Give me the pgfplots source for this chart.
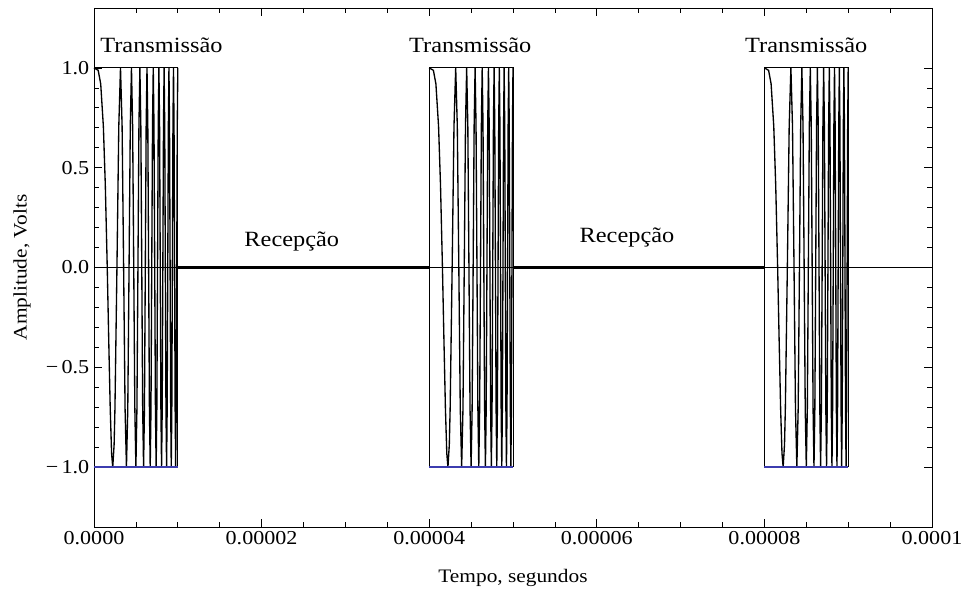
\documentclass[border=0pt]{standalone}
\usepackage{pgfplots}
\pgfplotsset{compat=1.18}
\usepackage{pgfplotstable}
\usepackage{fontspec}
\setmainfont{Liberation Serif}[FakeStretch=1.12]
\definecolor{envblue}{RGB}{60,60,175}

\pgfplotstableread{
t1 t2 t3 y
0.00000 4.00000 8.00000 1
0.05000 4.05000 8.05000 0.9877
0.08000 4.08000 8.08000 0.9202
0.11180 4.11180 8.11180 0.7071
0.13500 4.13500 8.13500 0.4128
0.15811 4.15811 8.15811 0
0.17500 4.17500 8.17500 -0.3461
0.19365 4.19365 8.19365 -0.7071
0.21000 4.21000 8.21000 -0.9317
0.22361 4.22361 8.22361 -1
0.24000 4.24000 8.24000 -0.8881
0.25000 4.25000 8.25000 -0.7071
0.27386 4.27386 8.27386 0
0.29580 4.29580 8.29580 0.7071
0.31623 4.31623 8.31623 1
0.33541 4.33541 8.33541 0.7071
0.35355 4.35355 8.35355 0
0.37081 4.37081 8.37081 -0.7071
0.38730 4.38730 8.38730 -1
0.40311 4.40311 8.40311 -0.7071
0.41833 4.41833 8.41833 0
0.43301 4.43301 8.43301 0.7071
0.44721 4.44721 8.44721 1
0.46098 4.46098 8.46098 0.7071
0.47434 4.47434 8.47434 0
0.48734 4.48734 8.48734 -0.7071
0.50000 4.50000 8.50000 -1
0.51235 4.51235 8.51235 -0.7071
0.52440 4.52440 8.52440 0
0.53619 4.53619 8.53619 0.7071
0.54772 4.54772 8.54772 1
0.55902 4.55902 8.55902 0.7071
0.57009 4.57009 8.57009 0
0.58095 4.58095 8.58095 -0.7071
0.59161 4.59161 8.59161 -1
0.60208 4.60208 8.60208 -0.7071
0.61237 4.61237 8.61237 0
0.62249 4.62249 8.62249 0.7071
0.63246 4.63246 8.63246 1
0.64226 4.64226 8.64226 0.7071
0.65192 4.65192 8.65192 0
0.66144 4.66144 8.66144 -0.7071
0.67082 4.67082 8.67082 -1
0.68007 4.68007 8.68007 -0.7071
0.68920 4.68920 8.68920 0
0.69821 4.69821 8.69821 0.7071
0.70711 4.70711 8.70711 1
0.71589 4.71589 8.71589 0.7071
0.72457 4.72457 8.72457 0
0.73314 4.73314 8.73314 -0.7071
0.74162 4.74162 8.74162 -1
0.75000 4.75000 8.75000 -0.7071
0.75829 4.75829 8.75829 0
0.76649 4.76649 8.76649 0.7071
0.77460 4.77460 8.77460 1
0.78262 4.78262 8.78262 0.7071
0.79057 4.79057 8.79057 0
0.79844 4.79844 8.79844 -0.7071
0.80623 4.80623 8.80623 -1
0.81394 4.81394 8.81394 -0.7071
0.82158 4.82158 8.82158 0
0.82916 4.82916 8.82916 0.7071
0.83666 4.83666 8.83666 1
0.84410 4.84410 8.84410 0.7071
0.85147 4.85147 8.85147 0
0.85878 4.85878 8.85878 -0.7071
0.86603 4.86603 8.86603 -1
0.87321 4.87321 8.87321 -0.7071
0.88034 4.88034 8.88034 0
0.88741 4.88741 8.88741 0.7071
0.89443 4.89443 8.89443 1
0.90139 4.90139 8.90139 0.7071
0.90830 4.90830 8.90830 0
0.91515 4.91515 8.91515 -0.7071
0.92195 4.92195 8.92195 -1
0.92871 4.92871 8.92871 -0.7071
0.93541 4.93541 8.93541 0
0.94207 4.94207 8.94207 0.7071
0.94868 4.94868 8.94868 1
0.95525 4.95525 8.95525 0.7071
0.96177 4.96177 8.96177 0
0.96825 4.96825 8.96825 -0.7071
0.97468 4.97468 8.97468 -1
0.98107 4.98107 8.98107 -0.7071
0.98742 4.98742 8.98742 0
0.99373 4.99373 8.99373 0.7071
1.00000 5.00000 9.00000 1
}\chirp

\begin{document}
\begin{tikzpicture}
\begin{axis}[
  at={(0,0)}, anchor=south west,
  scale only axis, width=628.5pt, height=389.25pt,
  xmin=0, xmax=10, ymin=-1.3, ymax=1.3,
  xtick={0,2,4,6,8,10},
  xticklabels={0.0000,0.00002,0.00004,0.00006,0.00008,0.0001},
  minor x tick num=3,
  ytick={-1,-0.5,0,0.5,1},
  yticklabels={−\,1.0,−\,0.5,0.0,0.5,1.0},
  minor y tick num=4,
  tick align=inside, tick pos=both,
  xticklabel pos=lower, yticklabel pos=left,
  major tick length=6pt, minor tick length=3.5pt,
  every tick/.style={black, line width=0.5pt},
  axis line style={line width=0.6pt},
  /pgf/number format/assume math mode=true,
  ticklabel style={font=\fontsize{14.8}{16}\selectfont},
  label style={font=\fontsize{14.3}{16}\selectfont},
  xlabel={Tempo, segundos},
  ylabel={Amplitude, Volts},
  xlabel style={at={(axis description cs:0.5,-0.0983)}, anchor=center},
  ylabel style={at={(axis description cs:-0.086,0.5)}, anchor=center},
  clip=false,
]
\addplot[black, line width=0.5pt] coordinates {(0,0) (10,0)};
\addplot[black, line width=1.8pt] coordinates {(1,0) (4,0)};
\addplot[black, line width=1.8pt] coordinates {(5,0) (8,0)};
\addplot[black, line width=1.0pt] table[x=t1, y=y]{\chirp};
\addplot[black, line width=1.0pt] table[x=t2, y=y]{\chirp};
\addplot[black, line width=1.0pt] table[x=t3, y=y]{\chirp};
% envelope rectangles
\addplot[black, line width=0.7pt] coordinates {(0,-1) (0,1) (1,1) (1,-1)};
\addplot[black, line width=0.7pt] coordinates {(4,-1) (4,1) (5,1) (5,-1)};
\addplot[black, line width=0.7pt] coordinates {(8,-1) (8,1) (9,1) (9,-1)};
\addplot[envblue, line width=1.0pt] coordinates {(0,-1) (1,-1)};
\addplot[envblue, line width=1.0pt] coordinates {(4,-1) (5,-1)};
\addplot[envblue, line width=1.0pt] coordinates {(8,-1) (9,-1)};
\node[font=\fontsize{16.3}{18}\selectfont] at (axis cs:0.805,1.115) {Transmissão};
\node[font=\fontsize{16.3}{18}\selectfont] at (axis cs:4.49,1.115) {Transmissão};
\node[font=\fontsize{16.3}{18}\selectfont] at (axis cs:8.5,1.115) {Transmissão};
\node[font=\fontsize{16.3}{18}\selectfont] at (axis cs:2.36,0.13) {Recepção};
\node[font=\fontsize{16.3}{18}\selectfont] at (axis cs:6.36,0.15) {Recepção};
\end{axis}
\pgfresetboundingbox
\path (-70.5pt,-51pt) rectangle (653.25pt,395.25pt);
\end{tikzpicture}
\end{document}
